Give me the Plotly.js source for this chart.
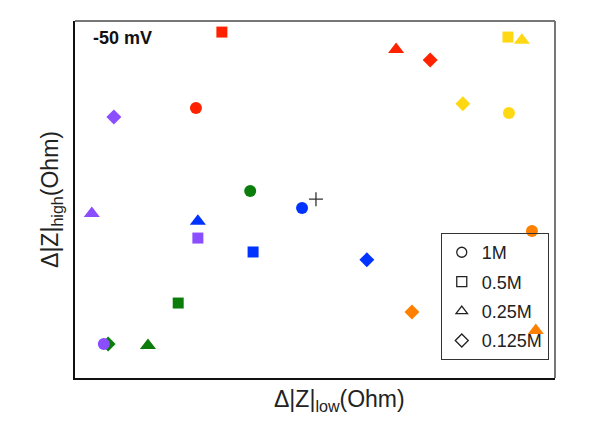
<!DOCTYPE html>
<html>
<head>
<meta charset="utf-8">
<script src="https://cdn.plot.ly/plotly-3.0.1.min.js"></script>
<style>html,body{margin:0;padding:0;background:#fff}#chart{width:596px;height:430px}</style>
</head>
<body>
<div id="chart"></div>
<script>
// Concentration order for every colour group: 1M, 0.5M, 0.25M, 0.125M
const concentrations = ['1M', '0.5M', '0.25M', '0.125M'];

const redX = [25.2, 30.6, 66.9, 74.0];
const redY = [75.6, 96.9, 92.0, 89.1];
const yellowX = [90.4, 90.2, 93.1, 80.8];
const yellowY = [74.2, 95.5, 94.6, 76.8];
const orangeX = [95.2, null, 96.0, 70.2];
const orangeY = [41.2, null, 13.3, 18.5];
const greenX = [36.5, 21.5, 15.2, 6.9];
const greenY = [52.4, 21.0, 9.1, 9.5];
const blueX = [47.3, 37.1, 25.6, 60.8];
const blueY = [47.6, 35.3, 43.9, 33.1];
const purpleX = [6.0, 25.6, 3.5, 8.1];
const purpleY = [9.5, 39.2, 46.1, 73.1];
const plusX = [50.2];
const plusY = [50.1];

const symbols = ['circle', 'square', 'triangle-up', 'diamond'];
const symbolSize = {'circle': 12, 'square': 11, 'triangle-up': 14, 'diamond': 11.5};

const groups = [
  {x: redX, y: redY, color: '#ff2200'},
  {x: yellowX, y: yellowY, color: '#ffd814'},
  {x: orangeX, y: orangeY, color: '#ff8000'},
  {x: greenX, y: greenY, color: '#0a7d0a'},
  {x: blueX, y: blueY, color: '#0033ff'},
  {x: purpleX, y: purpleY, color: '#8a4dff'}
];

const traces = [];
groups.forEach(g => {
  traces.push({
    type: 'scatter', mode: 'markers', x: g.x, y: g.y, showlegend: false,
    hoverinfo: 'skip',
    marker: {
      symbol: symbols,
      size: symbols.map(s => symbolSize[s]),
      color: g.color,
      opacity: 1,
      line: {width: 0}
    }
  });
});
traces.push({
  type: 'scatter', mode: 'markers', x: plusX, y: plusY, showlegend: false,
  marker: {symbol: 'cross-thin-open', size: 10, color: '#333', opacity: 1, line: {width: 1.3, color: '#333'}}
});
concentrations.forEach((c, i) => {
  traces.push({
    type: 'scatter', mode: 'markers', x: [null], y: [null], name: c,
    legendgroup: c, showlegend: true,
    marker: {symbol: symbols[i] + '-open', size: 10, color: '#222', opacity: 1, line: {width: 1.3, color: '#222'}}
  });
});

const layout = {
  width: 596, height: 430,
  margin: {l: 75, r: 41, t: 21, b: 52},
  paper_bgcolor: '#fff', plot_bgcolor: '#fff',
  font: {family: 'Liberation Sans, Arial, sans-serif', color: '#222'},
  xaxis: {range: [0, 100], showgrid: false, zeroline: false, showticklabels: false, ticks: '',
          showline: true, linecolor: '#111', linewidth: 2},
  yaxis: {range: [0, 100], showgrid: false, zeroline: false, showticklabels: false, ticks: '',
          showline: true, linecolor: '#111', linewidth: 2,
          title: {text: 'Δ|Z|<sub>high</sub>(Ohm)', font: {size: 23, color: '#222'}, standoff: 8}},
  showlegend: true,
  legend: {x: 0.762, y: 0.406, xanchor: 'left', yanchor: 'top', bordercolor: '#333', borderwidth: 1,
           bgcolor: 'rgba(255,255,255,0)', font: {size: 18, color: '#222'}, tracegroupgap: 3},
  shapes: [
    {type: 'line', xref: 'paper', yref: 'paper', x0: 0, x1: 1, y0: 1, y1: 1, line: {color: '#777', width: 2}},
    {type: 'line', xref: 'paper', yref: 'paper', x0: 1, x1: 1, y0: 0, y1: 1, line: {color: '#777', width: 2}}
  ],
  annotations: [
    {text: '<b>-50 mV</b>', xref: 'paper', yref: 'paper', x: 0.033, y: 0.952, xanchor: 'left', yanchor: 'middle',
     showarrow: false, font: {size: 18, color: '#111'}},
    {text: 'Δ|Z|<sub>low</sub>(Ohm)', xref: 'paper', yref: 'paper', x: 0.552, y: -0.064, xanchor: 'center', yanchor: 'middle',
     showarrow: false, font: {size: 23, color: '#222'}}
  ]
};

Plotly.newPlot('chart', traces, layout, {staticPlot: true, displayModeBar: false});
</script>
</body>
</html>
